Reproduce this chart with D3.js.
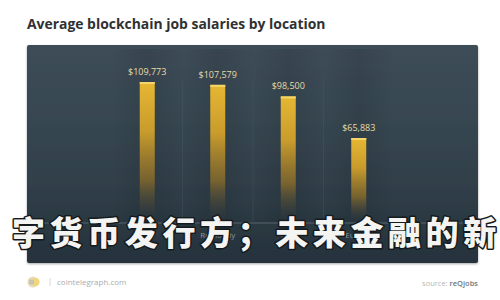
<!DOCTYPE html>
<html>
<head>
<meta charset="utf-8">
<script src="https://cdn.jsdelivr.net/npm/d3@7"></script>
<style>
  html, body { margin: 0; padding: 0; background: #ffffff; }
  svg { display: block; }
</style>
</head>
<body>
<svg id="chart" width="500" height="300"></svg>
<script>
// Salary data by location
const locations = ["U.S.", "Remotely", "U.K.", "Europe"];
const salaries = [109773, 107579, 98500, 65883];
const salaryLabels = ["$109,773", "$107,579", "$98,500", "$65,883"];

const titleText = "Average blockchain job salaries by location";
const overlayText = "字货币发行方；未来金融的新";
const siteText = "cointelegraph.com";
const sourceLabel = "source:";
const sourceName = "reQjobs";

const svg = d3.select("#chart");
const defs = svg.append("defs");

// panel background gradient
const bg = defs.append("linearGradient").attr("id", "panelBg")
  .attr("x1", 0).attr("y1", 0).attr("x2", 0).attr("y2", 1);
bg.append("stop").attr("offset", "0%").attr("stop-color", "#3d4d58");
bg.append("stop").attr("offset", "55%").attr("stop-color", "#33424c");
bg.append("stop").attr("offset", "100%").attr("stop-color", "#25323b");

// bar fill: gold at the top fading into the panel
const bar = defs.append("linearGradient").attr("id", "barFill")
  .attr("x1", 0).attr("y1", 0).attr("x2", 0).attr("y2", 1);
bar.append("stop").attr("offset", "0%").attr("stop-color", "#e6b733");
bar.append("stop").attr("offset", "35%").attr("stop-color", "#c99c2c");
bar.append("stop").attr("offset", "70%").attr("stop-color", "#8a6d2a").attr("stop-opacity", 0.8);
bar.append("stop").attr("offset", "100%").attr("stop-color", "#2c3640").attr("stop-opacity", 0.15);

// column shading behind the bars
const col = defs.append("linearGradient").attr("id", "colShade")
  .attr("x1", 0).attr("y1", 0).attr("x2", 1).attr("y2", 0);
col.append("stop").attr("offset", "0%").attr("stop-color", "#000").attr("stop-opacity", 0);
col.append("stop").attr("offset", "50%").attr("stop-color", "#000").attr("stop-opacity", 0.10);
col.append("stop").attr("offset", "100%").attr("stop-color", "#000").attr("stop-opacity", 0);

const panelShadow = defs.append("filter").attr("id", "softShadow")
  .attr("x", "-5%").attr("y", "-5%").attr("width", "110%").attr("height", "115%");
panelShadow.append("feDropShadow").attr("dx", 0).attr("dy", 1).attr("stdDeviation", 1.2)
  .attr("flood-color", "#000").attr("flood-opacity", 0.35);

const panel = { x: 27, y: 45, w: 451, h: 218 };

// title
const title = svg.append("text")
  .attr("x", 27).attr("y", 29)
  .attr("font-family", "'Open Sans', 'DejaVu Sans', sans-serif")
  .attr("font-weight", 700)
  .attr("font-size", 15)
  .attr("fill", "#2f3133")
  .text(titleText);
const tw = title.node().getComputedTextLength();
title.attr("font-size", 15 * 299 / tw);

// dark panel
svg.append("rect")
  .attr("x", panel.x).attr("y", panel.y)
  .attr("width", panel.w).attr("height", panel.h)
  .attr("rx", 2)
  .attr("fill", "url(#panelBg)")
  .attr("filter", "url(#softShadow)");

// scales
const x = d3.scalePoint().domain(locations).range([112, 394]).padding(0.5);
const y = d3.scaleLinear().domain([0, 120000]).range([222, 69]);
const barW = 15;
const step = x.step();

// shaded columns
svg.append("g").selectAll("rect").data(locations).join("rect")
  .attr("x", d => x(d) - step / 2)
  .attr("y", panel.y + 4)
  .attr("width", step)
  .attr("height", y(0) - panel.y - 4)
  .attr("fill", "url(#colShade)");

// faint separators between columns
svg.append("g").selectAll("line").data(locations.slice(1)).join("line")
  .attr("x1", d => x(d) - step / 2).attr("x2", d => x(d) - step / 2)
  .attr("y1", 80).attr("y2", y(0))
  .attr("stroke", "#4a5a66").attr("stroke-opacity", 0.35);

// baseline
svg.append("line")
  .attr("x1", panel.x + 4).attr("x2", panel.x + panel.w - 4)
  .attr("y1", y(0) + 1).attr("y2", y(0) + 1)
  .attr("stroke", "#56646e").attr("stroke-width", 1);

// bars
const bars = svg.append("g");
bars.selectAll("rect.bar").data(salaries).join("rect")
  .attr("class", "bar")
  .attr("x", (d, i) => x(locations[i]) - barW / 2)
  .attr("y", d => y(d))
  .attr("width", barW)
  .attr("height", d => y(0) - y(d))
  .attr("fill", "url(#barFill)");
// bright cap at the top of each bar
bars.selectAll("rect.cap").data(salaries).join("rect")
  .attr("class", "cap")
  .attr("x", (d, i) => x(locations[i]) - barW / 2)
  .attr("y", d => y(d))
  .attr("width", barW)
  .attr("height", 2)
  .attr("fill", "#f6d66a");

// value labels
svg.append("g").selectAll("text").data(salaries).join("text")
  .attr("x", (d, i) => x(locations[i]))
  .attr("y", d => y(d) - 7)
  .attr("text-anchor", "middle")
  .attr("font-family", "'Open Sans', 'DejaVu Sans', sans-serif")
  .attr("font-size", 9)
  .attr("fill", "#e9dba6")
  .text((d, i) => salaryLabels[i]);

// category labels
svg.append("g").selectAll("text").data(locations).join("text")
  .attr("x", d => x(d))
  .attr("y", 238)
  .attr("text-anchor", "middle")
  .attr("font-family", "'Open Sans', 'DejaVu Sans', sans-serif")
  .attr("font-size", 8)
  .attr("fill", "#8b96a0")
  .text(d => d);

// overlay headline
svg.append("text")
  .attr("x", 12).attr("y", 245)
  .attr("font-family", "'Noto Sans CJK SC', sans-serif")
  .attr("font-weight", 900)
  .attr("font-size", 33)
  .attr("letter-spacing", 4.6)
  .attr("fill", "#f4f4f2")
  .attr("stroke", "#141a1e")
  .attr("stroke-width", 3)
  .attr("stroke-linejoin", "round")
  .attr("paint-order", "stroke")
  .text(overlayText);

// footer: logo, site and source
const logo = svg.append("g").attr("transform", "translate(33,282)");
logo.append("circle").attr("r", 5.5).attr("fill", "#e8dcb8");
logo.append("circle").attr("cx", 2.5).attr("r", 4).attr("fill", "#f1d77c");
logo.append("rect").attr("x", -4).attr("y", -2.5).attr("width", 5).attr("height", 5).attr("fill", "#c8c3b6");

svg.append("line")
  .attr("x1", 50).attr("x2", 50).attr("y1", 278).attr("y2", 286)
  .attr("stroke", "#d8d8d8");

svg.append("text")
  .attr("x", 57).attr("y", 285)
  .attr("font-family", "'Open Sans', 'DejaVu Sans', sans-serif")
  .attr("font-size", 8)
  .attr("fill", "#a9adb0")
  .text(siteText);

const src = svg.append("text")
  .attr("x", 478).attr("y", 286)
  .attr("text-anchor", "end")
  .attr("font-family", "'Open Sans', 'DejaVu Sans', sans-serif")
  .attr("font-size", 7.5);
src.append("tspan").attr("fill", "#b5b8bb").text(sourceLabel + " ");
src.append("tspan").attr("fill", "#6f7478").attr("font-weight", 600).text(sourceName);
</script>
</body>
</html>
